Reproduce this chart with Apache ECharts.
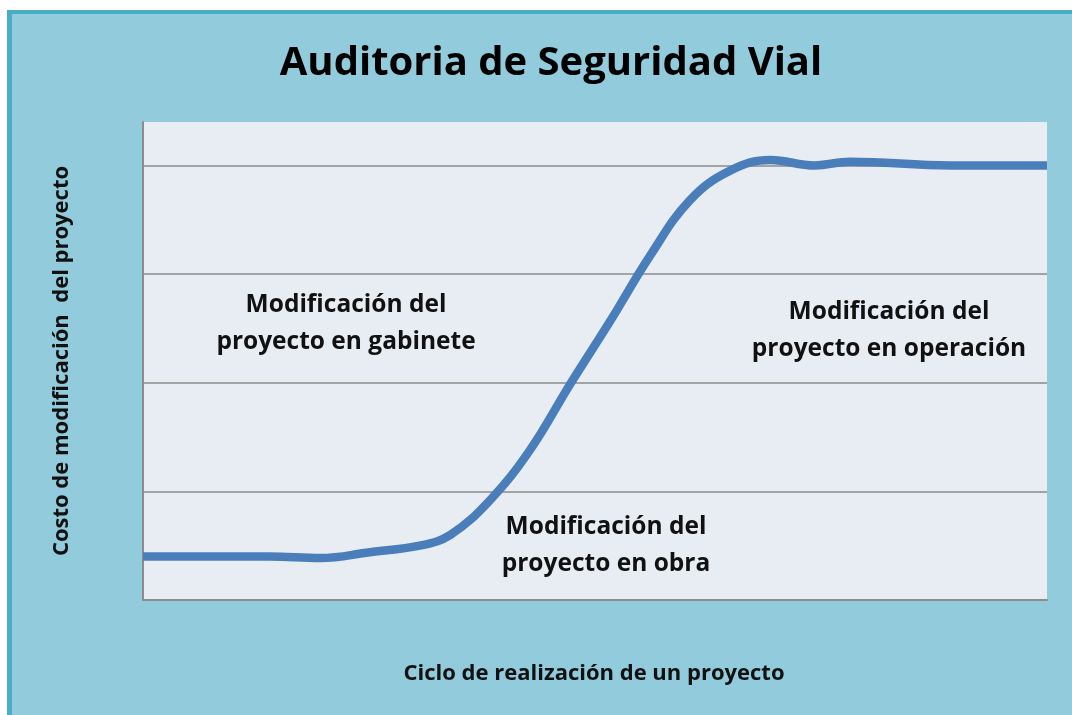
<!DOCTYPE html>
<html>
<head>
<meta charset="utf-8">
<title>Auditoria de Seguridad Vial</title>
<script src="https://cdn.jsdelivr.net/npm/echarts@6/dist/echarts.min.js"></script>
<style>
  html, body { margin: 0; padding: 0; background: #fff; }
  #chart { width: 1072px; height: 715px; }
</style>
</head>
<body>
<div id="chart"></div>
<script>
// ciclo del proyecto (0-100) y costo de modificación
const ciclo = [0, 14, 19.6, 25.1, 30.6, 34.0, 38.4, 42.8, 47.2, 51.7, 56.1, 60.5, 64.9, 69.4, 74.3, 78.2, 89.3, 100];
const costo = [0.40, 0.40, 0.386, 0.44, 0.50, 0.60, 0.92, 1.38, 1.98, 2.57, 3.17, 3.68, 3.95, 4.05, 4.0, 4.035, 4.0, 4.0];

const titulo = 'Auditoria de Seguridad Vial';
const ejeX = 'Ciclo de realización de un proyecto';
const ejeY = 'Costo de modificación  del proyecto';
const etapas = [
    'Modificación del\nproyecto en gabinete',
    'Modificación del\nproyecto en obra',
    'Modificación del\nproyecto en operación'
];

const fuente = '"Open Sans"';
const textoEtapa = (x, y, texto) => ({
    type: 'text',
    x: x,
    y: y,
    z: 10,
    style: {
        text: texto,
        align: 'center',
        verticalAlign: 'middle',
        font: 'bold 24.5px ' + fuente,
        lineHeight: 37,
        fill: '#111'
    }
});

const myChart = echarts.init(document.getElementById('chart'));

const options = {
    backgroundColor: '#ffffff',
    animation: false,
    title: {
        text: titulo,
        left: 546,
        top: 39,
        textAlign: 'center',
        textStyle: { fontFamily: 'Open Sans', fontWeight: 'bold', fontSize: 40, color: '#000' }
    },
    grid: { left: 143, top: 122, right: 25, bottom: 115, show: true, backgroundColor: '#e8edf4', borderWidth: 0 },
    xAxis: {
        type: 'value',
        min: 0,
        max: 100,
        axisLine: { show: true, lineStyle: { color: '#8c8c8c', width: 2 } },
        axisTick: { show: false },
        axisLabel: { show: false },
        splitLine: { show: false }
    },
    yAxis: {
        type: 'value',
        min: 0,
        max: 4.4,
        interval: 1,
        axisLine: { show: true, lineStyle: { color: '#8c8c8c', width: 2 } },
        axisTick: { show: false },
        axisLabel: { show: false },
        splitLine: { show: true, showMaxLine: false, lineStyle: { color: '#8a8a8a', width: 1.5 } }
    },
    graphic: [
        // marco exterior
        { type: 'rect', z: -10, shape: { x: 7, y: 10, width: 1065, height: 705 }, style: { fill: '#4bacc6' } },
        { type: 'rect', z: -9, shape: { x: 12, y: 14, width: 1060, height: 701 }, style: { fill: '#92cbdc' } },
        {
            type: 'text', x: 594, y: 674, z: 10,
            style: { text: ejeX, align: 'center', verticalAlign: 'middle', font: 'bold 22px ' + fuente, fill: '#111' }
        },
        {
            type: 'text', x: 62, y: 361, rotation: Math.PI / 2, z: 10,
            style: { text: ejeY, align: 'center', verticalAlign: 'middle', font: 'bold 22px ' + fuente, fill: '#111' }
        },
        textoEtapa(346, 324, etapas[0]),
        textoEtapa(606, 546, etapas[1]),
        textoEtapa(889, 331, etapas[2])
    ],
    series: [
        {
            type: 'line',
            smooth: 0.4,
            symbol: 'none',
            lineStyle: { color: '#4a7ebb', width: 8.5 },
            data: ciclo.map((x, i) => [x, costo[i]])
        }
    ]
};

myChart.setOption(options);
</script>
</body>
</html>
